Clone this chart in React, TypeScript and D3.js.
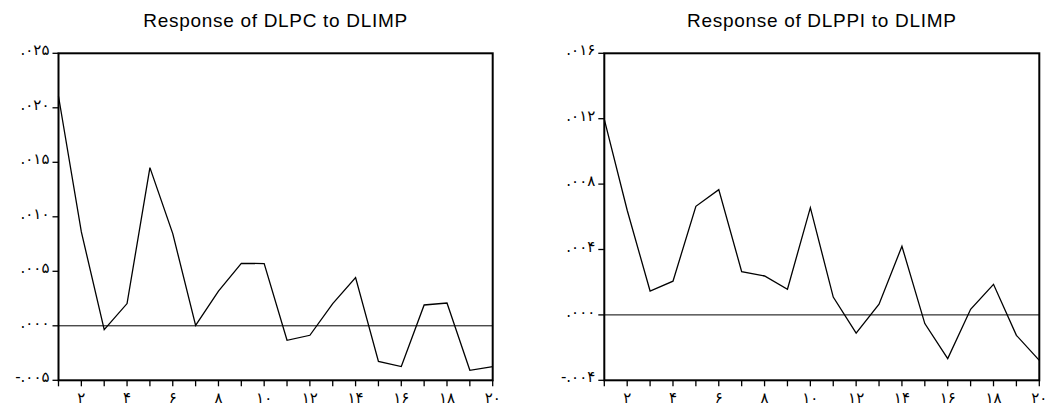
import React from "react";
import * as d3 from "d3";

const periods = d3.range(1, 21);

const dlpcValues = [
  0.02106, 0.00861, -0.00035, 0.00204, 0.01451, 0.00846, 0.00003, 0.00319, 0.00573, 0.00571,
  -0.00133, -0.00087, 0.00204, 0.00442, -0.00326, -0.00374, 0.00191, 0.00209, -0.00408, -0.00374,
];

const dlppiValues = [
  0.01196, 0.0064, 0.00146, 0.00206, 0.00664, 0.00766, 0.00265, 0.00238, 0.00157, 0.00656,
  0.00109, -0.00111, 0.00065, 0.0042, -0.00053, -0.00267, 0.00034, 0.00187, -0.00125, -0.00278,
];

const leftTitle = "Response of DLPC to DLIMP";
const rightTitle = "Response of DLPPI to DLIMP";

const leftYTicks = [-0.005, 0.0, 0.005, 0.01, 0.015, 0.02, 0.025];
const leftYLabels = ["-.۰۰۵", ".۰۰۰", ".۰۰۵", ".۰۱۰", ".۰۱۵", ".۰۲۰", ".۰۲۵"];
const rightYTicks = [-0.004, 0.0, 0.004, 0.008, 0.012, 0.016];
const rightYLabels = ["-.۰۰۴", ".۰۰۰", ".۰۰۴", ".۰۰۸", ".۰۱۲", ".۰۱۶"];

const xLabelTicks = [2, 4, 6, 8, 10, 12, 14, 16, 18, 20];
const xLabels = ["۲", "۴", "۶", "۸", "۱۰", "۱۲", "۱۴", "۱۶", "۱۸", "۲۰"];

type PanelProps = {
  title: string;
  values: number[];
  yTicks: number[];
  yLabels: string[];
  x0: number;
  x1: number;
};

const TOP = 53.3;
const BOTTOM = 380.3;

function Panel({ title, values, yTicks, yLabels, x0, x1 }: PanelProps) {
  const x = d3.scaleLinear().domain([1, 20]).range([x0, x1]);
  const y = d3
    .scaleLinear()
    .domain([yTicks[0], yTicks[yTicks.length - 1]])
    .range([BOTTOM, TOP]);
  const line = d3
    .line<number>()
    .x((_, i) => x(periods[i]))
    .y((d) => y(d));
  const digitFont = "'DejaVu Sans', sans-serif";
  return (
    <g>
      <text
        x={(x0 + x1) / 2}
        y={27}
        textAnchor="middle"
        fontFamily="'Liberation Sans', Arial, sans-serif"
        fontSize={19}
        letterSpacing={0.7}
        fill="#000"
      >
        {title}
      </text>
      {/* zero line */}
      <line x1={x0} x2={x1} y1={y(0)} y2={y(0)} stroke="#000" strokeWidth={1} />
      {/* series */}
      <path d={line(values) || ""} fill="none" stroke="#000" strokeWidth={1.3} />
      {/* frame */}
      <rect x={x0} y={TOP} width={x1 - x0} height={BOTTOM - TOP} fill="none" stroke="#000" strokeWidth={2} />
      {/* y ticks */}
      {yTicks.map((t, i) => (
        <g key={"y" + i}>
          <line x1={x0 - 6} x2={x0} y1={y(t)} y2={y(t)} stroke="#000" strokeWidth={1.3} />
          <text
            x={x0 - 9}
            y={y(t) + 2}
            textAnchor="end"
            fontFamily={digitFont}
            fontSize={15}
            letterSpacing={2}
            fill="#000"
            direction="ltr"
          >
            {yLabels[i]}
          </text>
        </g>
      ))}
      {/* x ticks */}
      {periods.map((p) => (
        <line key={"xt" + p} x1={x(p)} x2={x(p)} y1={BOTTOM} y2={BOTTOM + 6} stroke="#000" strokeWidth={1.3} />
      ))}
      {xLabelTicks.map((p, i) => (
        <text
          key={"xl" + p}
          x={x(p)}
          y={403}
          textAnchor="middle"
          fontFamily={digitFont}
          fontSize={15}
          letterSpacing={2}
          fill="#000"
          direction="ltr"
        >
          {xLabels[i]}
        </text>
      ))}
    </g>
  );
}

export default function App() {
  return (
    <svg
      width={1049}
      height={406}
      style={{ position: "absolute", left: 0, top: 0, background: "#fff" }}
    >
      <rect width={1049} height={406} fill="#fff" />
      <Panel title={leftTitle} values={dlpcValues} yTicks={leftYTicks} yLabels={leftYLabels} x0={58.5} x1={492.7} />
      <Panel title={rightTitle} values={dlppiValues} yTicks={rightYTicks} yLabels={rightYLabels} x0={604.3} x1={1039.3} />
    </svg>
  );
}
